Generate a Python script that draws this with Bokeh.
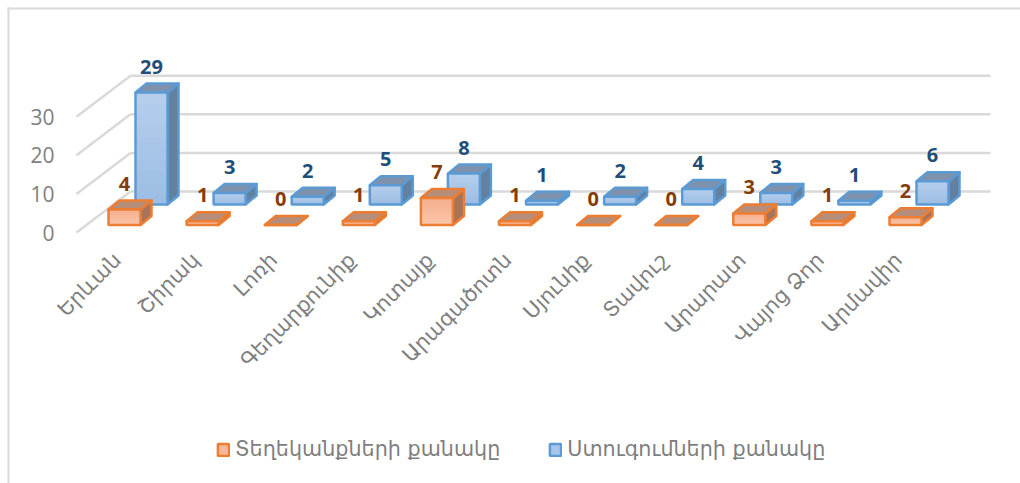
from bokeh.plotting import figure
from bokeh.embed import file_html
from bokeh.resources import INLINE
from bokeh.core.properties import value
from bokeh.models import FixedTicker, Legend, LegendItem, BoxAnnotation, ColumnDataSource, Range1d
import math

categories = ["Երևան", "Շիրակ", "Լոռի", "Գեղարքունիք", "Կոտայք", "Արագածոտն",
              "Սյունիք", "Տավուշ", "Արարատ", "Վայոց Ձոր", "Արմավիր"]
references = [4, 1, 0, 1, 7, 1, 0, 0, 3, 1, 2]
inspections = [29, 3, 2, 5, 8, 1, 2, 4, 3, 1, 6]
series_names = ["Տեղեկանքների քանակը", "Ստուգումների քանակը"]
y_ticks = [0, 10, 20, 30]

PX_X, PX_Y = 78.1, 3.86          # pixels per category, pixels per value
W = 32 / PX_X                    # bar width
DX, DY = 11 / PX_X, 9 / PX_Y     # bar depth
WALL_DX, WALL_DY = 54 / PX_X, 41 / PX_Y
LEFT_WALL = -48 / PX_X
RIGHT_END = 866 / PX_X
FONT = "DejaVu Sans"
WIDTH, HEIGHT = 1020, 483
X0, Y0 = 124, 232                # page pixel of category 0 / value 0

p = figure(width=WIDTH, height=HEIGHT, output_backend="svg", toolbar_location=None,
           x_range=(-X0 / PX_X, (WIDTH - X0) / PX_X),
           y_range=((Y0 - HEIGHT) / PX_Y, Y0 / PX_Y),
           min_border=0, outline_line_color=None)
p.grid.visible = False

LABEL_SHIFT = 7
p.extra_x_ranges["labels"] = Range1d((LABEL_SHIFT - X0) / PX_X, (WIDTH - X0 + LABEL_SHIFT) / PX_X)

# axes
ya = p.yaxis[0]
ya.fixed_location = (60 - X0) / PX_X
ya.ticker = FixedTicker(ticks=y_ticks)
ya.axis_line_color = None
ya.major_tick_line_color = None
ya.minor_tick_line_color = None
ya.major_tick_out = 0
ya.major_label_text_color = "#808080"
ya.major_label_text_font = "Open Sans"
ya.major_label_text_font_size = "21px"
ya.major_label_standoff = 6

xa = p.xaxis[0]
xa.x_range_name = "labels"
xa.fixed_location = 0
xa.ticker = FixedTicker(ticks=list(range(len(categories))))
xa.major_label_overrides = {i: c for i, c in enumerate(categories)}
xa.axis_line_color = None
xa.major_tick_line_color = None
xa.minor_tick_line_color = None
xa.major_label_orientation = math.pi / 4
xa.major_label_text_color = "#7f7f7f"
xa.major_label_text_font = FONT
xa.major_label_text_font_size = "21px"
xa.major_label_standoff = 18

# walls
wall_xs, wall_ys, back_xs, back_ys = [], [], [], []
for t in y_ticks:
    wall_xs.append([LEFT_WALL, LEFT_WALL + WALL_DX])
    wall_ys.append([t, t + WALL_DY])
    back_xs.append([LEFT_WALL + WALL_DX, RIGHT_END])
    back_ys.append([t + WALL_DY, t + WALL_DY])
p.multi_line(wall_xs + back_xs, wall_ys + back_ys, line_color="#d9d9d9", line_width=2.5)


def bars(vals, x_off, base, edge, top_c, side_c, grad_top, grad_bot):
    xs = [i + x_off for i in range(len(vals))]
    tops = [base + v for v in vals]
    # side and top faces
    p.patches([[x + W, x + W + DX, x + W + DX, x + W] for x in xs],
              [[base, base + DY, t + DY, t] for t in tops],
              fill_color=side_c, line_color=edge, line_width=2.5, line_join="round")
    p.patches([[x, x + DX, x + W + DX, x + W] for x in xs],
              [[t, t + DY, t + DY, t] for t in tops],
              fill_color=top_c, line_color=edge, line_width=2.5, line_join="round")
    # front faces, with a stepped vertical gradient painted from the top downwards
    n = 10
    for k in range(n):
        f = k / (n - 1)
        c = "#%02x%02x%02x" % tuple(round(a + (b - a) * f) for a, b in zip(grad_top, grad_bot))
        p.quad(left=xs, right=[x + W for x in xs],
               bottom=[base] * len(vals),
               top=[base + v * (1 - k / n) for v in vals],
               fill_color=c, line_color=None)
    return p.quad(left=xs, right=[x + W for x in xs], bottom=[base] * len(vals), top=tops,
                  fill_color=None, line_color=edge, line_width=2.5)


bars(inspections, 11 / PX_X, 28 / PX_Y, "#5b9bd5", "#7f92ad", "#62809f",
     (0xb4, 0xce, 0xec), (0x9c, 0xbd, 0xe4))
bars(references, -16 / PX_X, 7.5 / PX_Y, "#ed7d31", "#b58d78", "#a5745a",
     (0xf6, 0xb0, 0x90), (0xfb, 0xc4, 0xa8))

# data labels
for vals, x_off, base, col in [(references, 0 / PX_X, 7.5 / PX_Y, "#843c0c"),
                               (inspections, 27 / PX_X, 28 / PX_Y, "#1f4e79")]:
    src = ColumnDataSource(dict(x=[i + x_off for i in range(len(vals))],
                                y=[base + v + DY + 17 / PX_Y for v in vals],
                                t=[str(v) for v in vals]))
    p.text("x", "y", text="t", source=src, text_align="center", text_baseline="middle",
           text_color=col, text_font=value("Open Sans"), text_font_style="bold",
           text_font_size="20px")

# legend
swatch_o = p.quad(left=[0], right=[0], bottom=[0], top=[0], fill_color="#f8b79b",
                  line_color="#ed7d31", line_width=2.5)
swatch_b = p.quad(left=[0], right=[0], bottom=[0], top=[0], fill_color="#a8c5e8",
                  line_color="#5b9bd5", line_width=2.5)
leg = Legend(items=[LegendItem(label=series_names[0], renderers=[swatch_o]),
                    LegendItem(label=series_names[1], renderers=[swatch_b])],
             orientation="horizontal", location=(216, 22),
             background_fill_alpha=0, border_line_color=None,
             label_text_font=FONT, label_text_font_size="20.7px", label_text_color="#7f7f7f",
             glyph_width=14, glyph_height=15, spacing=48, padding=0, margin=0, label_standoff=5)
p.add_layout(leg, "center")

# chart area border
p.add_layout(BoxAnnotation(left=7, right=WIDTH, top=7, bottom=9,
                           left_units="canvas", right_units="canvas", top_units="canvas", bottom_units="canvas",
                           fill_color="#d9d9d9", fill_alpha=1, line_color=None))
p.add_layout(BoxAnnotation(left=7, right=9, top=7, bottom=HEIGHT,
                           left_units="canvas", right_units="canvas", top_units="canvas", bottom_units="canvas",
                           fill_color="#d9d9d9", fill_alpha=1, line_color=None))

open("out.html", "w").write(file_html(p, INLINE))
